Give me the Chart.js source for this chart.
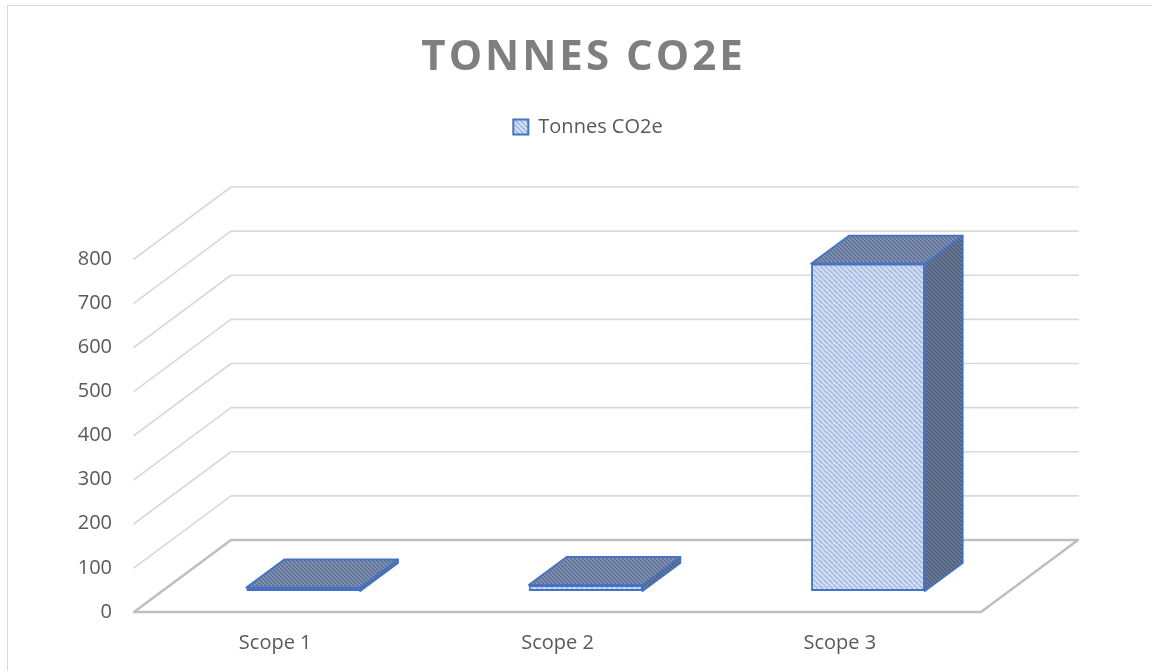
<!DOCTYPE html>
<html>
<head>
<meta charset="utf-8">
<script src="https://cdn.jsdelivr.net/npm/chart.js@4.4.1/dist/chart.umd.min.js"></script>
<style>
  html, body { margin: 0; padding: 0; background: #fff; }
</style>
</head>
<body>
<canvas id="co2-chart" width="1152" height="671"></canvas>
<script>
// chart data
const categories = ['Scope 1', 'Scope 2', 'Scope 3'];
const tonnes = [8, 14, 742];
const seriesName = 'Tonnes CO2e';
const chartTitle = 'TONNES CO2E';
const yMin = 0, yMax = 800, yStep = 100;

// 3d look: full depth of the floor, and where the bars sit inside it
const DEPTH_X = 97, DEPTH_Y = -72;
const BAR_FRONT = 0.29, BAR_BACK = 0.68;

const FONT = '"Open Sans", "DejaVu Sans", sans-serif';
const TEXT_GREY = '#595959';
const BAR_EDGE = '#4472C4';

// diagonal "\" hatch tile
function stripes(bg, fg, size, lw) {
  const c = document.createElement('canvas');
  c.width = size; c.height = size;
  const g = c.getContext('2d');
  g.fillStyle = bg;
  g.fillRect(0, 0, size, size);
  g.strokeStyle = fg;
  g.lineWidth = lw;
  g.beginPath();
  for (let k = -1; k <= 1; k++) {
    g.moveTo(k * size, 0);
    g.lineTo(k * size + size, size);
  }
  g.stroke();
  return g.createPattern(c, 'repeat');
}

const frontFill = stripes('#dbe4f4', '#9fb5e0', 5, 1.6);
const topFill = stripes('#8595b4', '#5b6d93', 4, 1.4);
const sideFill = stripes('#6c7b96', '#4f5e7a', 4, 1.4);

function poly(ctx, pts) {
  ctx.beginPath();
  ctx.moveTo(pts[0][0], pts[0][1]);
  for (let i = 1; i < pts.length; i++) ctx.lineTo(pts[i][0], pts[i][1]);
  ctx.closePath();
}

// walls, floor and the top/side faces of the bars; the front faces are
// the normal chart.js bars, pushed back into the box with a translate
const box3d = {
  id: 'box3d',
  beforeDatasetsDraw(chart) {
    const { ctx, chartArea: a, scales: { x, y } } = chart;
    ctx.save();
    ctx.lineCap = 'round';
    ctx.lineJoin = 'round';

    // back wall grid + left wall diagonals
    ctx.strokeStyle = '#d9d9d9';
    ctx.lineWidth = 1.6;
    y.ticks.forEach(t => {
      if (t.value === yMin) return;
      const py = y.getPixelForValue(t.value);
      ctx.beginPath();
      ctx.moveTo(a.left, py);
      ctx.lineTo(a.left + DEPTH_X, py + DEPTH_Y);
      ctx.lineTo(a.right + DEPTH_X, py + DEPTH_Y);
      ctx.stroke();
    });

    // floor
    const p0 = y.getPixelForValue(yMin);
    ctx.strokeStyle = '#bfbfbf';
    ctx.lineWidth = 2.6;
    poly(ctx, [[a.left, p0], [a.left + DEPTH_X, p0 + DEPTH_Y],
               [a.right + DEPTH_X, p0 + DEPTH_Y], [a.right, p0]]);
    ctx.stroke();

    // bar tops and right sides
    const fx = DEPTH_X * BAR_FRONT, fy = DEPTH_Y * BAR_FRONT;
    const bx = DEPTH_X * (BAR_BACK - BAR_FRONT), by = DEPTH_Y * (BAR_BACK - BAR_FRONT);
    ctx.strokeStyle = BAR_EDGE;
    ctx.lineWidth = 1.8;
    chart.getDatasetMeta(0).data.forEach(bar => {
      const p = bar.getProps(['x', 'y', 'base', 'width'], true);
      const l = p.x - p.width / 2 + fx, r = p.x + p.width / 2 + fx;
      const t = p.y + fy, b = p.base + fy;
      ctx.fillStyle = sideFill;
      poly(ctx, [[r, t], [r + bx, t + by], [r + bx, b + by], [r, b]]);
      ctx.fill();
      ctx.stroke();
      ctx.fillStyle = topFill;
      poly(ctx, [[l, t], [r, t], [r + bx, t + by], [l + bx, t + by]]);
      ctx.fill();
      ctx.stroke();
    });
    ctx.restore();

    ctx.save();
    ctx.translate(fx, fy);
  },
  afterDatasetsDraw(chart) {
    chart.ctx.restore();
  },
  afterDraw(chart) {
    const ctx = chart.ctx;
    ctx.save();
    // outer frame
    ctx.strokeStyle = '#d9d9d9';
    ctx.lineWidth = 1;
    ctx.strokeRect(7.5, 5.5, 1160, 700);
    // spaced out title
    ctx.font = 'bold 42px ' + FONT;
    ctx.letterSpacing = '3px';
    ctx.fillStyle = '#7f7f7f';
    ctx.textBaseline = 'alphabetic';
    const w = ctx.measureText(chartTitle).width - 3;
    ctx.fillText(chartTitle, 582 - w / 2, 70);
    ctx.restore();
  }
};

const hidden = { grid: { display: false, drawTicks: false }, border: { display: false }, ticks: { display: false } };

new Chart(document.getElementById('co2-chart').getContext('2d'), {
  type: 'bar',
  data: {
    labels: categories,
    datasets: [{
      label: seriesName,
      data: tonnes,
      backgroundColor: frontFill,
      borderColor: BAR_EDGE,
      borderWidth: 2,
      borderSkipped: false,
      categoryPercentage: 1,
      barPercentage: 0.403,
      clip: false
    }]
  },
  options: {
    responsive: false,
    animation: false,
    layout: { padding: { left: 24, right: 0, top: 107, bottom: 16 } },
    plugins: {
      title: { display: false },
      tooltip: { enabled: false },
      legend: {
        position: 'top',
        labels: {
          boxWidth: 15,
          boxHeight: 15,
          padding: 10,
          color: TEXT_GREY,
          font: { family: FONT, size: 20 }
        }
      }
    },
    scales: {
      x: {
        position: 'bottom',
        grid: { display: false, drawTicks: false },
        border: { display: false },
        ticks: { color: TEXT_GREY, font: { family: FONT, size: 20 }, padding: 19 },
        afterFit: s => { s.height = 43; }
      },
      y: {
        min: yMin,
        max: yMax,
        grid: { display: false, drawTicks: false },
        border: { display: false },
        ticks: { stepSize: yStep, color: TEXT_GREY, font: { family: FONT, size: 20 }, padding: 22 },
        afterFit: s => { s.width = 110; }
      },
      // empty axes that only hold space so the plot lands where the 3d box is
      xTop: { type: 'category', position: 'top', ...hidden, afterFit: s => { s.height = 112; } },
      yRight: { type: 'linear', position: 'right', ...hidden, afterFit: s => { s.width = 171; } }
    }
  },
  plugins: [box3d]
});
</script>
</body>
</html>
